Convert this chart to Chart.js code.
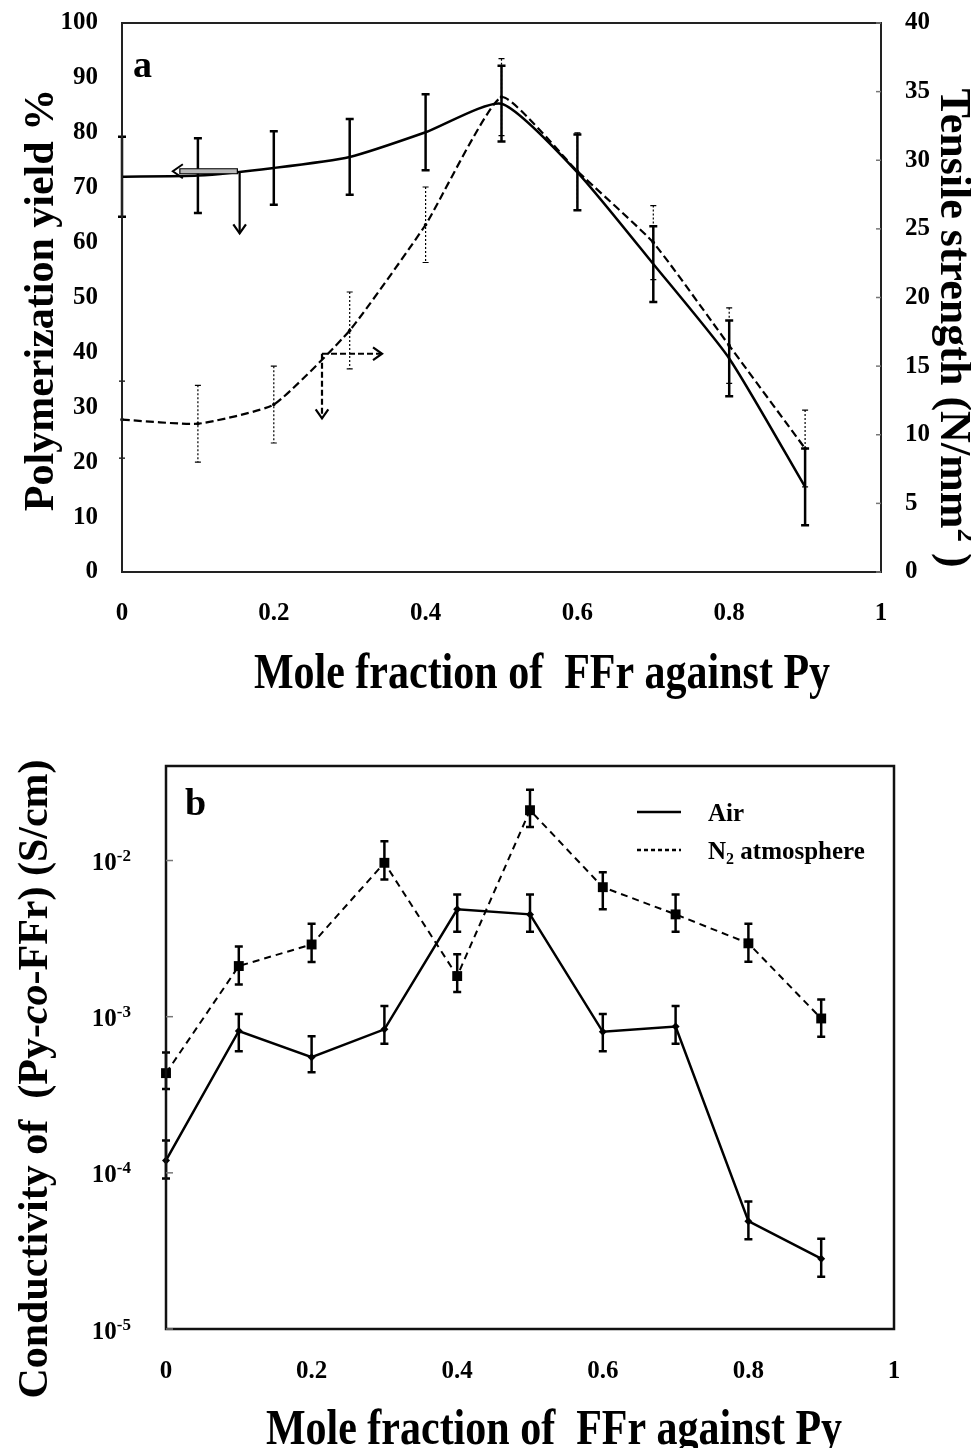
<!DOCTYPE html>
<html>
<head>
<meta charset="utf-8">
<script src="https://cdn.jsdelivr.net/npm/chart.js@4.4.1/dist/chart.umd.min.js"></script>
<style>
  body { margin: 0; background: #fff; }
  #wrap { position: relative; width: 971px; height: 1448px; overflow: hidden; }
  #chartA { position: absolute; left: 0; top: 0; }
  #chartB { position: absolute; left: 0; top: 700px; }
</style>
</head>
<body>
<div id="wrap">
  <canvas id="chartA" width="971" height="720"></canvas>
  <canvas id="chartB" width="971" height="748"></canvas>
</div>
<script>
// Shared x values (mole fraction of FFr)
const moleFraction = [0, 0.1, 0.2, 0.3, 0.4, 0.5, 0.6, 0.7, 0.8, 0.9];
const xTicks = [0, 0.2, 0.4, 0.6, 0.8, 1];
const xTickLabels = ['0', '0.2', '0.4', '0.6', '0.8', '1'];

// Panel a: polymerization yield (left axis) and tensile strength (right axis)
const yieldPct = [72.0, 72.2, 73.6, 75.6, 80.1, 85.3, 72.8, 56.1, 38.9, 15.5];
const yieldErr = [7.3, 6.8, 6.7, 6.9, 6.9, 6.9, 6.9, 6.9, 6.9, 7.0];
const tensile = [11.1, 10.8, 12.2, 17.6, 25.3, 34.6, 29.2, 24.0, 16.5, 9.0];
const tensileErr = [2.8, 2.8, 2.8, 2.8, 2.75, 2.8, 2.8, 2.7, 2.75, 2.8];

// Panel b: conductivity (S/cm), log scale
const airCond = [1.2e-4, 8.1e-4, 5.5e-4, 8.3e-4, 4.87e-3, 4.52e-3, 8.0e-4, 8.65e-4, 4.9e-5, 2.82e-5];
const airHigh = [1.61e-4, 1.04e-3, 7.5e-4, 1.17e-3, 6.07e-3, 6.07e-3, 1.04e-3, 1.17e-3, 6.55e-5, 3.79e-5];
const airLow = [9.2e-5, 6.0e-4, 4.4e-4, 6.7e-4, 3.5e-3, 3.5e-3, 6.0e-4, 6.7e-4, 3.75e-5, 2.16e-5];
const n2Cond = [4.35e-4, 2.11e-3, 2.9e-3, 9.67e-3, 1.82e-3, 2.1e-2, 6.75e-3, 4.52e-3, 2.95e-3, 9.74e-4];
const n2High = [5.9e-4, 2.81e-3, 3.94e-3, 1.33e-2, 2.51e-3, 2.84e-2, 8.4e-3, 6.07e-3, 3.94e-3, 1.29e-3];
const n2Low = [3.44e-4, 1.61e-3, 2.24e-3, 7.57e-3, 1.44e-3, 1.64e-2, 4.87e-3, 3.5e-3, 2.25e-3, 7.43e-4];
const condTicks = [1e-5, 1e-4, 1e-3, 1e-2];
const condTickExp = ['-5', '-4', '-3', '-2'];

const SERIF = '"Liberation Serif", "Times New Roman", serif';
const f = (size, style) => (style || 'bold') + ' ' + size + 'px ' + SERIF;

Chart.defaults.font.family = SERIF;
Chart.defaults.font.weight = 'bold';
Chart.defaults.font.size = 25;
Chart.defaults.color = '#000';

function toPoints(ys) {
    return moleFraction.map((x, i) => ({ x: x, y: ys[i] }));
}

// Draw a sequence of text runs (different fonts / offsets) around 0,0
function drawRuns(ctx, runs, align) {
    let total = 0;
    runs.forEach(r => { ctx.font = r.font; r.w = ctx.measureText(r.t).width; total += r.w; });
    let x = align === 'left' ? 0 : align === 'right' ? -total : -total / 2;
    ctx.textAlign = 'left';
    ctx.textBaseline = 'alphabetic';
    runs.forEach(r => {
        ctx.font = r.font;
        ctx.fillText(r.t, x, r.dy || 0);
        x += r.w;
    });
}

function drawErrorBars(chart) {
    const ctx = chart.ctx;
    const xs = chart.scales.x;
    chart.data.datasets.forEach(ds => {
        if (!ds.errHigh) return;
        const ys = chart.scales[ds.yAxisID];
        ctx.save();
        ctx.strokeStyle = '#000';
        ctx.lineWidth = ds.errWidth;
        ds.data.forEach((p, i) => {
            const x = xs.getPixelForValue(p.x);
            const y1 = ys.getPixelForValue(ds.errHigh[i]);
            const y2 = ys.getPixelForValue(ds.errLow[i]);
            ctx.setLineDash(ds.errDash || []);
            ctx.beginPath();
            ctx.moveTo(x, y1);
            ctx.lineTo(x, y2);
            ctx.stroke();
            ctx.setLineDash([]);
            ctx.beginPath();
            ctx.moveTo(x - ds.errCap, y1); ctx.lineTo(x + ds.errCap, y1);
            ctx.moveTo(x - ds.errCap, y2); ctx.lineTo(x + ds.errCap, y2);
            ctx.stroke();
        });
        ctx.restore();
    });
}

function arrowHead(ctx, x, y, dir, size) {
    // dir: unit vector of arrow direction
    const [dx, dy] = dir;
    const px = -dy, py = dx;
    ctx.beginPath();
    ctx.moveTo(x - dx * size + px * size * 0.7, y - dy * size + py * size * 0.7);
    ctx.lineTo(x, y);
    ctx.lineTo(x - dx * size - px * size * 0.7, y - dy * size - py * size * 0.7);
    ctx.stroke();
}

// Arrow annotations of panel a, given in data coordinates
const arrowNotes = [
    { axis: 'y', from: [0.152, 73.0], to: [0.067, 73.0], kind: 'block' },
    { axis: 'y', from: [0.155, 73.0], to: [0.155, 61.7], kind: 'solid' },
    { axis: 'y2', from: [0.2635, 15.9], to: [0.3426, 15.9], kind: 'dashed' },
    { axis: 'y2', from: [0.2635, 15.9], to: [0.2635, 11.2], kind: 'dashed' }
];

const decorA = {
    id: 'decorA',
    afterDatasetsDraw(chart) {
        drawErrorBars(chart);
        const ctx = chart.ctx;
        const xs = chart.scales.x;
        arrowNotes.forEach(a => {
            const ys = chart.scales[a.axis];
            const x1 = xs.getPixelForValue(a.from[0]), y1 = ys.getPixelForValue(a.from[1]);
            const x2 = xs.getPixelForValue(a.to[0]), y2 = ys.getPixelForValue(a.to[1]);
            const len = Math.hypot(x2 - x1, y2 - y1);
            const dir = [(x2 - x1) / len, (y2 - y1) / len];
            ctx.save();
            ctx.strokeStyle = '#000';
            if (a.kind === 'block') {
                ctx.fillStyle = '#b8b8b8';
                ctx.lineWidth = 1.2;
                ctx.beginPath();
                ctx.rect(x2 + 7, y1 - 2.5, x1 - x2 - 7, 5);
                ctx.fill();
                ctx.stroke();
                ctx.lineWidth = 2;
                arrowHead(ctx, x2, y2, dir, 10);
            } else {
                ctx.lineWidth = 2.2;
                if (a.kind === 'dashed') ctx.setLineDash([6, 3]);
                ctx.beginPath();
                ctx.moveTo(x1, y1);
                ctx.lineTo(x2, y2);
                ctx.stroke();
                ctx.setLineDash([]);
                arrowHead(ctx, x2, y2, dir, 9);
            }
            ctx.restore();
        });
    },
    afterDraw(chart) {
        const ctx = chart.ctx;
        const area = chart.chartArea;
        const y2 = chart.scales.y2;
        ctx.save();
        // plot frame
        ctx.strokeStyle = '#222';
        ctx.lineWidth = 2;
        ctx.strokeRect(area.left, area.top, area.right - area.left, area.bottom - area.top);
        // inward tick marks on right axis
        ctx.strokeStyle = '#777';
        ctx.lineWidth = 1.5;
        y2.ticks.forEach(t => {
            const y = y2.getPixelForValue(t.value);
            ctx.beginPath();
            ctx.moveTo(area.right - 5, y);
            ctx.lineTo(area.right, y);
            ctx.stroke();
        });
        ctx.fillStyle = '#000';
        // panel label
        ctx.font = f(38);
        ctx.textAlign = 'left';
        ctx.textBaseline = 'alphabetic';
        ctx.fillText('a', area.left + 11, area.top + 54);
        // x title
        ctx.save();
        ctx.translate(542, 688);
        ctx.scale(1, 1.2);
        drawRuns(ctx, [{ t: 'Mole fraction of  FFr against Py', font: f(42) }]);
        ctx.restore();
        // left title
        ctx.save();
        ctx.translate(53, 300);
        ctx.rotate(-Math.PI / 2);
        drawRuns(ctx, [{ t: 'Polymerization yield %', font: f(42) }]);
        ctx.restore();
        // right title
        ctx.save();
        ctx.translate(941, 328);
        ctx.rotate(Math.PI / 2);
        drawRuns(ctx, [
            { t: 'Tensile strength (N/mm', font: f(44) },
            { t: '2', font: f(27), dy: -17 },
            { t: ' )', font: f(44) }
        ]);
        ctx.restore();
        ctx.restore();
    }
};

const decorB = {
    id: 'decorB',
    afterDatasetsDraw(chart) {
        drawErrorBars(chart);
    },
    afterDraw(chart) {
        const ctx = chart.ctx;
        const area = chart.chartArea;
        const ys = chart.scales.y;
        ctx.save();
        ctx.strokeStyle = '#111';
        ctx.lineWidth = 2.5;
        ctx.strokeRect(area.left, area.top, area.right - area.left, area.bottom - area.top);
        ctx.fillStyle = '#000';
        // decade ticks and labels 10^n
        condTicks.forEach((v, i) => {
            const y = ys.getPixelForValue(v);
            ctx.strokeStyle = '#777';
            ctx.lineWidth = 1.5;
            ctx.beginPath();
            ctx.moveTo(area.left, y);
            ctx.lineTo(area.left + 7, y);
            ctx.stroke();
            ctx.save();
            ctx.translate(area.left - 35, y + 9.5);
            drawRuns(ctx, [
                { t: '10', font: f(25) },
                { t: condTickExp[i], font: f(17), dy: -9 }
            ], 'right');
            ctx.restore();
        });
        // panel label
        ctx.font = f(38);
        ctx.textAlign = 'left';
        ctx.textBaseline = 'alphabetic';
        ctx.fillText('b', area.left + 19, area.top + 49);
        // legend
        const lx = area.left + 471, ly = area.top + 46;
        ctx.strokeStyle = '#000';
        ctx.lineWidth = 2.5;
        ctx.beginPath();
        ctx.moveTo(lx, ly); ctx.lineTo(lx + 44, ly);
        ctx.stroke();
        ctx.setLineDash([4, 3]);
        ctx.beginPath();
        ctx.moveTo(lx, ly + 38); ctx.lineTo(lx + 44, ly + 38);
        ctx.stroke();
        ctx.setLineDash([]);
        ctx.save();
        ctx.translate(lx + 71, ly + 8.5);
        drawRuns(ctx, [{ t: 'Air', font: f(25) }], 'left');
        ctx.restore();
        ctx.save();
        ctx.translate(lx + 71, ly + 46.5);
        drawRuns(ctx, [
            { t: 'N', font: f(25) },
            { t: '2', font: f(16), dy: 5 },
            { t: ' atmosphere', font: f(25) }
        ], 'left');
        ctx.restore();
        // x title
        ctx.save();
        ctx.translate(554, 744);
        ctx.scale(1, 1.2);
        drawRuns(ctx, [{ t: 'Mole fraction of  FFr against Py', font: f(42) }]);
        ctx.restore();
        // left title
        ctx.save();
        ctx.translate(47, 379);
        ctx.rotate(-Math.PI / 2);
        drawRuns(ctx, [
            { t: 'Conductivity of  (Py-', font: f(42) },
            { t: 'co', font: f(42, 'italic bold') },
            { t: '-FFr) (S/cm)', font: f(42) }
        ]);
        ctx.restore();
        ctx.restore();
    }
};

// Fix an axis box size and drop the label overhang padding Chart.js adds
const fixBox = (w, h) => s => {
    if (w !== null) s.width = w;
    if (h !== null) s.height = h;
    s.paddingTop = 0;
    s.paddingBottom = 0;
    s.paddingLeft = 0;
    s.paddingRight = 0;
};

const xScale = (labelPad, height) => ({
    type: 'linear',
    min: 0,
    max: 1,
    grid: { display: false, drawTicks: false },
    border: { display: false },
    afterBuildTicks: s => { s.ticks = xTicks.map(v => ({ value: v })); },
    ticks: {
        padding: labelPad,
        maxRotation: 0,
        callback: (v, i) => xTickLabels[i]
    },
    afterFit: fixBox(null, height)
});

// Panel a
new Chart(document.getElementById('chartA'), {
    type: 'line',
    data: {
        datasets: [
            {
                label: 'Polymerization yield',
                data: toPoints(yieldPct),
                yAxisID: 'y',
                borderColor: '#000',
                borderWidth: 2.5,
                pointRadius: 0,
                tension: 0.2,
                clip: false,
                errHigh: yieldPct.map((v, i) => v + yieldErr[i]),
                errLow: yieldPct.map((v, i) => v - yieldErr[i]),
                errWidth: 2.5,
                errCap: 4
            },
            {
                label: 'Tensile strength',
                data: toPoints(tensile),
                yAxisID: 'y2',
                borderColor: '#000',
                borderWidth: 2.2,
                borderDash: [8, 4],
                pointRadius: 1.8,
                pointBackgroundColor: '#000',
                pointBorderWidth: 0,
                tension: 0.15,
                clip: false,
                errHigh: tensile.map((v, i) => v + tensileErr[i]),
                errLow: tensile.map((v, i) => v - tensileErr[i]),
                errWidth: 1.2,
                errDash: [2, 2],
                errCap: 3
            }
        ]
    },
    options: {
        responsive: false,
        animation: false,
        layout: { padding: { top: 23, left: 0, right: 0, bottom: 0 } },
        plugins: { legend: { display: false }, tooltip: { enabled: false } },
        scales: {
            x: xScale(27, 148),
            y: {
                position: 'left',
                min: 0,
                max: 100,
                grid: { display: false, drawTicks: false },
                border: { display: false },
                ticks: { stepSize: 10, padding: 24 },
                afterFit: fixBox(122, null)
            },
            y2: {
                position: 'right',
                min: 0,
                max: 40,
                grid: { display: false, drawTicks: false },
                border: { display: false },
                ticks: { stepSize: 5, padding: 24 },
                afterFit: fixBox(90, null)
            }
        }
    },
    plugins: [decorA]
});

// Panel b
new Chart(document.getElementById('chartB'), {
    type: 'line',
    data: {
        datasets: [
            {
                label: 'Air',
                data: toPoints(airCond),
                yAxisID: 'y',
                borderColor: '#000',
                borderWidth: 2.5,
                pointStyle: 'rectRot',
                pointRadius: 4,
                pointBackgroundColor: '#000',
                pointBorderWidth: 0,
                tension: 0,
                clip: false,
                errHigh: airHigh,
                errLow: airLow,
                errWidth: 2.5,
                errCap: 4
            },
            {
                label: 'N2 atmosphere',
                data: toPoints(n2Cond),
                yAxisID: 'y',
                borderColor: '#000',
                borderWidth: 2,
                borderDash: [7, 5],
                pointStyle: 'rect',
                pointRadius: 7,
                pointBackgroundColor: '#000',
                pointBorderWidth: 0,
                tension: 0,
                clip: false,
                errHigh: n2High,
                errLow: n2Low,
                errWidth: 2.5,
                errCap: 4
            }
        ]
    },
    options: {
        responsive: false,
        animation: false,
        layout: { padding: { top: 66, left: 0, right: 77, bottom: 0 } },
        plugins: { legend: { display: false }, tooltip: { enabled: false } },
        scales: {
            x: xScale(28, 119),
            y: {
                type: 'logarithmic',
                position: 'left',
                min: 1e-5,
                max: 0.0403,
                grid: { display: false, drawTicks: false },
                border: { display: false },
                afterBuildTicks: s => { s.ticks = condTicks.map(v => ({ value: v })); },
                ticks: { display: false },
                afterFit: fixBox(166, null)
            }
        }
    },
    plugins: [decorB]
});
</script>
</body>
</html>
